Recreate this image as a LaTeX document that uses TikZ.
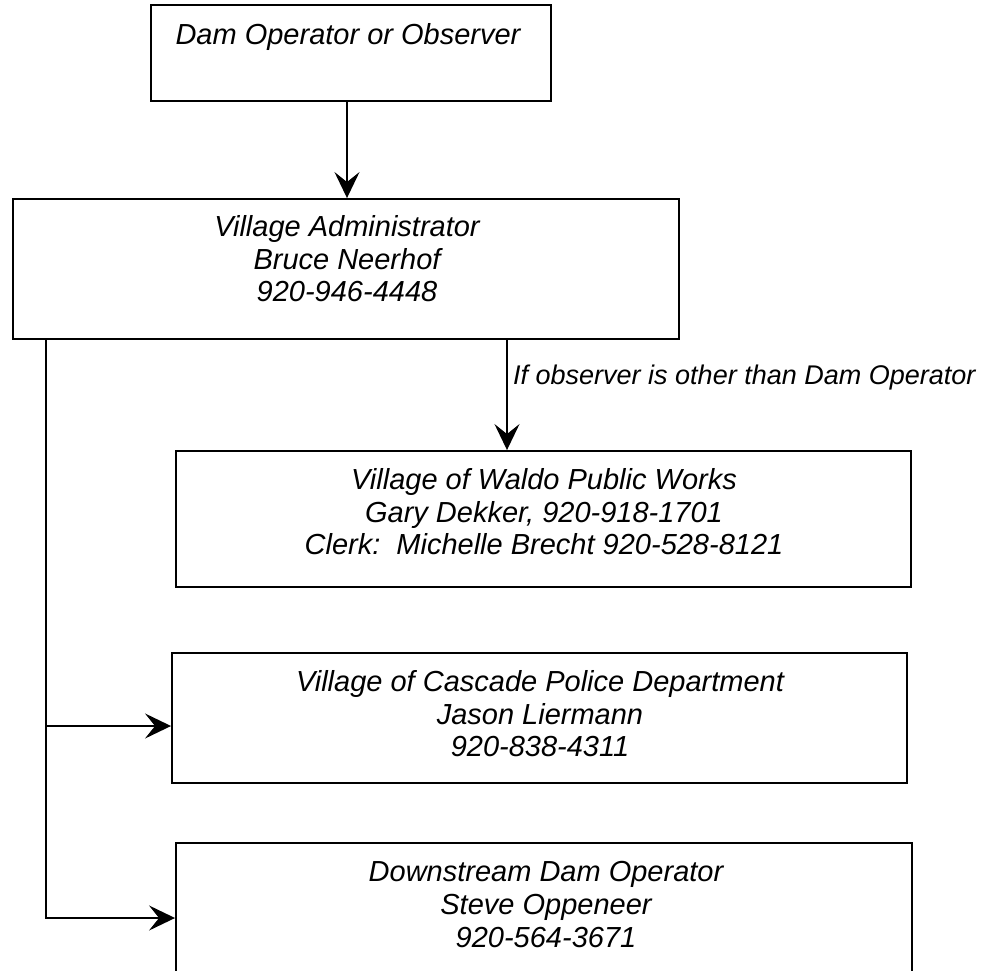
\documentclass[tikz,border=0pt]{standalone}
\usepackage{fontspec}
\setmainfont{Liberation Sans}
\usetikzlibrary{arrows.meta}
\begin{document}
\begin{tikzpicture}[x=1pt,y=-1pt,
  box/.style={draw, line width=1.9pt, rectangle, inner sep=0pt},
  txt/.style={font=\fontsize{29}{32.8}\selectfont\itshape, align=center, anchor=north, inner sep=0pt},
  lab/.style={font=\fontsize{27}{31}\selectfont\itshape, anchor=north west, inner sep=0pt},
  arr/.style={line width=1.9pt, -{Stealth[length=26pt, width=25pt, inset=10pt]}},
  trunk/.style={line width=1.9pt}]
\useasboundingbox (0,0) rectangle (986,970);
\fill[white] (0,0) rectangle (986,970);
\clip (0,0) rectangle (986,970);

% boxes
\node[box, minimum width=400pt, minimum height=96pt] (b1) at (351,53) {};
\node[box, minimum width=666pt, minimum height=140pt] (b2) at (346,269) {};
\node[box, minimum width=735pt, minimum height=136pt] (b3) at (543.5,519) {};
\node[box, minimum width=735pt, minimum height=130pt] (b4) at (539.5,718) {};
\node[box, minimum width=736pt, minimum height=150pt] (b5) at (544,918) {};

% texts
\node[txt] (t1) at (348,23) {Dam Operator or Observer};
\node[txt] (t2) at (347,215) {Village Administrator\\Bruce Neerhof\\920-946-4448};
\node[txt] (t3) at (544,468) {Village of Waldo Public Works\\Gary Dekker, 920-918-1701\\Clerk:~~Michelle Brecht 920-528-8121};
\node[txt] (t4) at (540,670) {Village of Cascade Police Department\\Jason Liermann\\920-838-4311};
\node[txt] (t5) at (546,861) {Downstream Dam Operator\\Steve Oppeneer\\920-564-3671};
\node[lab] (lbl) at (513,365) {If observer is other than Dam Operator};

% connectors
\draw[arr] ([xshift=-4pt]b1.south) -- ([xshift=-4pt]b1.south |- b2.north);
\draw[arr] ([xshift=161pt]b2.south) -- ([xshift=161pt]b2.south |- b3.north);
\coordinate (j4) at ([yshift=-8pt]b4.west);
\draw[arr] ([xshift=34pt]b2.south west) |- (b5.west);
\draw[arr] ([xshift=34pt]b2.south west |- j4) -- (j4);
\end{tikzpicture}
\end{document}
